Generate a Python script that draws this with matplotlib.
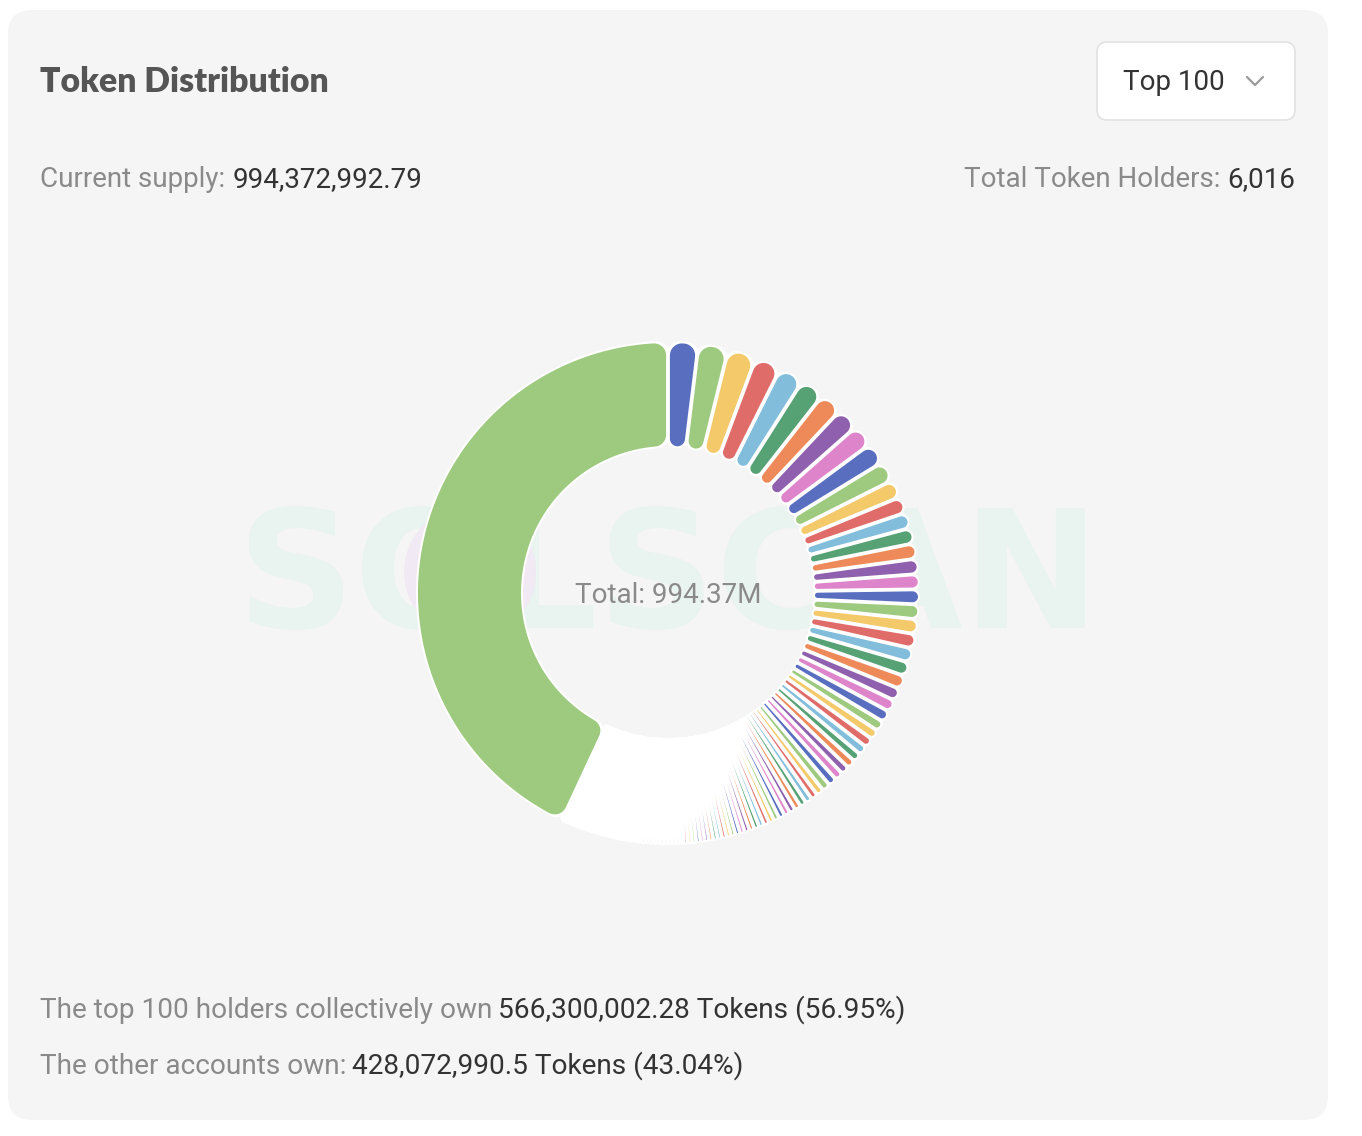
import numpy as np
import matplotlib.pyplot as plt
from matplotlib.patches import FancyBboxPatch, Ellipse, PathPatch
from matplotlib.path import Path

holder_pct = [
    1.944, 1.917, 1.833, 1.694, 1.611, 1.556, 1.472, 1.444, 1.417, 1.389,
    1.306, 1.167, 1.056, 1.014, 1.000, 0.986, 0.986, 0.972, 0.958, 0.958,
    0.944, 0.931, 0.917, 0.903, 0.875, 0.806, 0.778, 0.750, 0.667, 0.639,
    0.625, 0.597, 0.569, 0.556, 0.542, 0.542, 0.542, 0.528, 0.472, 0.431,
    0.431, 0.417, 0.403, 0.389, 0.375, 0.375, 0.361, 0.347, 0.347, 0.333,
    0.333, 0.319, 0.319, 0.306, 0.306, 0.292, 0.292, 0.292, 0.286, 0.281,
    0.278, 0.275, 0.272, 0.269, 0.267, 0.264, 0.261, 0.247, 0.247, 0.247,
    0.247, 0.247, 0.247, 0.247, 0.247, 0.247, 0.247, 0.247, 0.241, 0.241,
    0.241, 0.241, 0.241, 0.241, 0.241, 0.241, 0.241, 0.241, 0.241, 0.236,
    0.236, 0.236, 0.236, 0.236, 0.236, 0.236, 0.236, 0.236, 0.236, 0.236,
]
others_pct = 43.04
palette = ['#5a6ec0', '#9dca7e', '#f3c96a', '#e06c6a', '#82bedc',
           '#56a275', '#ee8a5a', '#8f60ad', '#dd84ca']

title = 'Token Distribution'
dropdown_label = 'Top 100'
supply_parts = ('Current supply:', '994,372,992.79')
holders_parts = ('Total Token Holders:', '6,016')
center_label = 'Total: 994.37M'
top_parts = ('The top 100 holders collectively own', '566,300,002.28 Tokens (56.95%)')
other_parts = ('The other accounts own:', '428,072,990.5 Tokens (43.04%)')

W, H = 1362, 1136
CX, CY = 668, 593
R_IN, R_OUT = 147, 250
GAP, HALO, CORNER = 3.8, 2.0, 12
PT = 0.72  # points per pixel at dpi 100

GREY, DARK = '#8a8a8a', '#333333'
MAIN = ['Roboto', 'DejaVu Sans']


def rot(a):
    return np.array([np.cos(a), np.sin(a)])


def ang(p, ref):
    a = np.arctan2(p[1], p[0])
    return ref + (a - ref + np.pi) % (2 * np.pi) - np.pi


def fillet(c, t1, t2, n=10):
    a1 = np.arctan2(*(t1 - c)[::-1])
    a2 = np.arctan2(*(t2 - c)[::-1])
    d = (a2 - a1 + np.pi) % (2 * np.pi) - np.pi
    a = a1 + d * np.linspace(0, 1, n)
    rad = np.hypot(*(t1 - c))
    return c + rad * np.c_[np.cos(a), np.sin(a)]


def arc(r, a1, a2):
    n = max(2, int(abs(a2 - a1) / 0.005) + 1)
    a = np.linspace(a1, a2, n)
    return r * np.c_[np.cos(a), np.sin(a)]


def slice_outline(p0, p1, r_in, r_out, gap, rmax):
    # annular sector with parallel gaps and rounded corners (angles clockwise from top)
    h = (p1 - p0) / 2
    s = np.sin(min(h, np.pi / 2))
    half = gap / 2
    ro = min(rmax, (r_out * s - half) / (1 + s))
    if ro <= 0.03:
        return None
    n0 = np.array([-np.sin(p0), np.cos(p0)])
    n1 = np.array([np.sin(p1), -np.cos(p1)])
    rc = r_out - ro
    c0 = rc * rot(p0 + np.arcsin((half + ro) / rc))
    c1 = rc * rot(p1 - np.arcsin((half + ro) / rc))
    t0s, t0a = c0 - ro * n0, c0 / rc * r_out
    t1a, t1s = c1 / rc * r_out, c1 - ro * n1
    pts = [fillet(c0, t0s, t0a), arc(r_out, ang(t0a, p0), ang(t1a, p1)), fillet(c1, t1a, t1s)]
    if r_in * s - half > 0.03:
        ri = rmax if s > 0.999 else min(rmax, (r_in * s - half) / (1 - s))
        rc = r_in + ri
        c1i = rc * rot(p1 - np.arcsin((half + ri) / rc))
        c0i = rc * rot(p0 + np.arcsin((half + ri) / rc))
        t1si, t1ai = c1i - ri * n1, c1i / rc * r_in
        t0ai, t0si = c0i / rc * r_in, c0i - ri * n0
        pts += [fillet(c1i, t1si, t1ai), arc(r_in, ang(t1ai, p1), ang(t0ai, p0)),
                fillet(c0i, t0ai, t0si)]
    else:
        pts.append((half / s * rot((p0 + p1) / 2))[None])
    xy = np.vstack(pts)
    # math frame -> image pixels (x right, y down)
    return np.c_[CX + xy[:, 1], CY - xy[:, 0]]


def add_poly(xy, face, lw=0.0, z=3):
    patch = PathPatch(Path(xy, closed=False), facecolor=face, edgecolor=face if lw else 'none',
                      linewidth=lw, joinstyle='round', zorder=z)
    ax.add_patch(patch)


fig = plt.figure(figsize=(W / 100, H / 100), dpi=100)
ax = fig.add_axes([0, 0, 1, 1])
ax.set_xlim(0, W)
ax.set_ylim(H, 0)
ax.axis('off')
fig.patch.set_facecolor('white')

ax.add_patch(FancyBboxPatch((8, 10), 1320, 1110, boxstyle='round,pad=0,rounding_size=24',
                            facecolor='#f5f5f5', edgecolor='none', zorder=0))

# watermark
ax.text(CX, 628, 'SOLSCAN', fontsize=118, fontweight='bold', family='DejaVu Sans',
        color='#e9f3ef', ha='center', va='baseline', zorder=1)
ax.add_patch(Ellipse((470, 572), 132, 132, facecolor='#f1e9f4', edgecolor='none', zorder=1))

# donut
values = np.array(holder_pct + [others_pct])
edges = np.r_[0, np.cumsum(values)] / values.sum() * 2 * np.pi
for i in range(len(values)):
    under = slice_outline(edges[i], edges[i + 1], R_IN, R_OUT, 0.0, CORNER)
    add_poly(under, 'white', lw=2 * HALO * PT, z=2)
for i in range(len(values)):
    shape = slice_outline(edges[i], edges[i + 1], R_IN, R_OUT, GAP, CORNER)
    if shape is not None:
        add_poly(shape, palette[i % len(palette)], z=3)

renderer = fig.canvas.get_renderer()


def text_row(x, y, parts, size, align='left', space=7):
    objs = [ax.text(x, y, s, fontsize=size, family=MAIN, color=c, va='baseline', zorder=5)
            for s, c in parts]
    widths = [t.get_window_extent(renderer).width for t in objs]
    pos = x - sum(widths) - space * (len(objs) - 1) if align == 'right' else x
    for t, w in zip(objs, widths):
        t.set_x(pos)
        pos += w + space


ax.text(40, 92, title, fontsize=24.3, fontweight='heavy', family=['Lato', 'DejaVu Sans'],
        color='#555555', va='baseline')

ax.add_patch(FancyBboxPatch((1097, 42), 198, 78, boxstyle='round,pad=0,rounding_size=10',
                            facecolor='white', edgecolor='#e2e2e2', linewidth=1.2, zorder=4))
ax.text(1123, 90, dropdown_label, fontsize=20, family=MAIN, color=DARK, va='baseline', zorder=5)
ax.plot([1247, 1255, 1263], [77, 85, 77], color='#9a9a9a', lw=1.6, solid_capstyle='round', zorder=5)

text_row(40, 187, [(supply_parts[0], GREY), (supply_parts[1], DARK)], 20)
text_row(1295, 187, [(holders_parts[0], GREY), (holders_parts[1], DARK)], 20, align='right')

ax.text(CX, 603, center_label, fontsize=20, family=MAIN, color=GREY, ha='center',
        va='baseline', zorder=5)

text_row(40, 1018, [(top_parts[0], GREY), (top_parts[1], DARK)], 20.15, space=6)
text_row(40, 1074, [(other_parts[0], GREY), (other_parts[1], DARK)], 20.15, space=6)

fig.savefig('out.png', dpi=100, facecolor='white')
